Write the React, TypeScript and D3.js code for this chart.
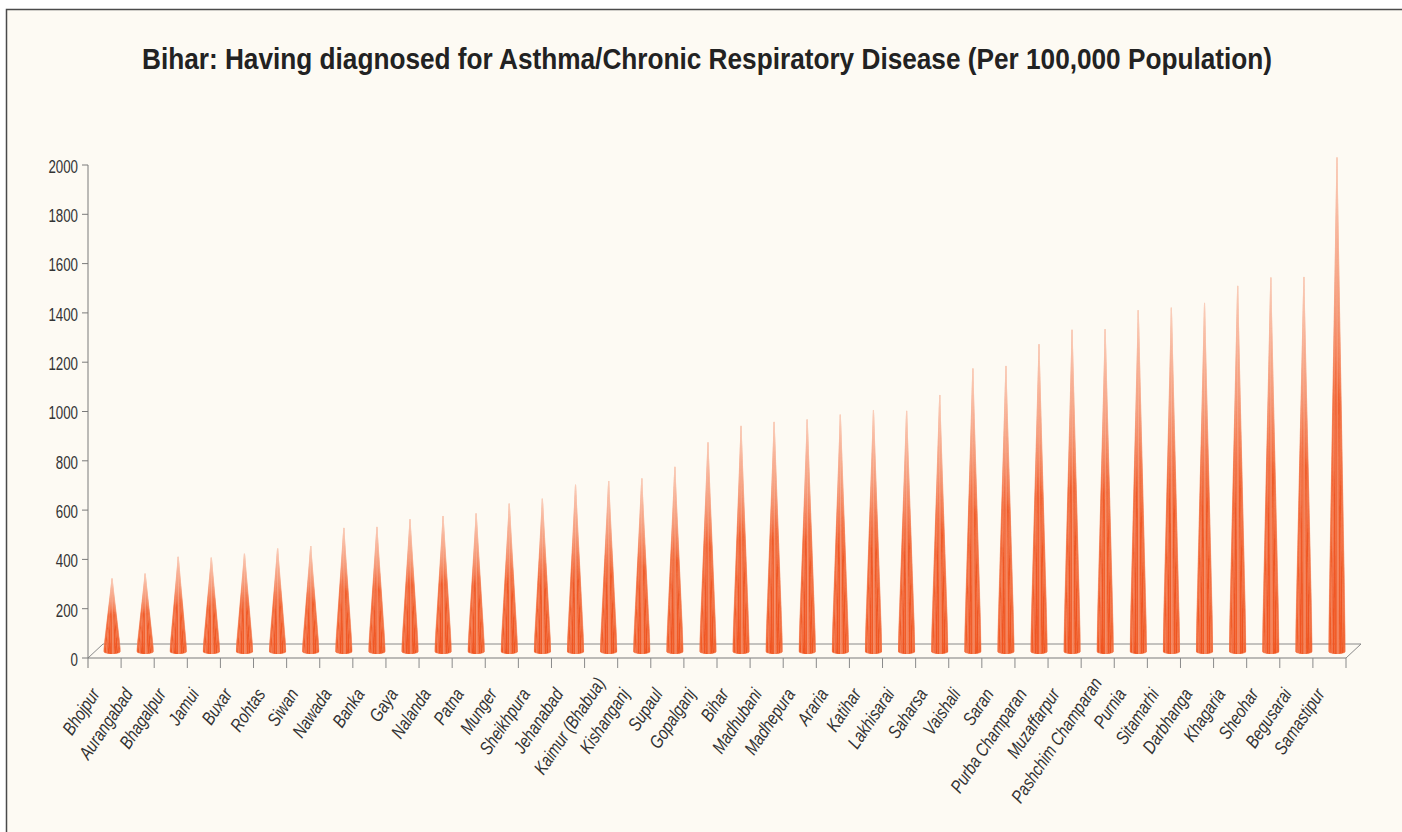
import React from "react";
import * as d3 from "d3";

const categories = [
  "Bhojpur", "Aurangabad", "Bhagalpur", "Jamui", "Buxar", "Rohtas", "Siwan", "Nawada",
  "Banka", "Gaya", "Nalanda", "Patna", "Munger", "Sheikhpura", "Jehanabad", "Kaimur (Bhabua)",
  "Kishanganj", "Supaul", "Gopalganj", "Bihar", "Madhubani", "Madhepura", "Araria", "Katihar",
  "Lakhisarai", "Saharsa", "Vaishali", "Saran", "Purba Champaran", "Muzaffarpur",
  "Pashchim Champaran", "Purnia", "Sitamarhi", "Darbhanga", "Khagaria", "Sheohar", "Begusarai",
  "Samastipur",
];

const values = [
  295, 315, 383, 380, 396, 417, 426, 500,
  504, 535, 548, 559, 599, 619, 676, 690,
  701, 748, 847, 914, 930, 940, 960, 978,
  975, 1039, 1147, 1157, 1245, 1304,
  1306, 1383, 1394, 1413, 1482, 1516, 1518,
  2003,
];

const yTicks = [0, 200, 400, 600, 800, 1000, 1200, 1400, 1600, 1800, 2000];

const title = "Bihar: Having diagnosed for Asthma/Chronic Respiratory Disease (Per 100,000 Population)";

const W = 1402;
const H = 832;
const left = 88;
const right = 1346;
const top = 165;
const bottom = 658;
const depthX = 15;
const depthY = 14;

const facetColors = [
  "#F47E55", "#F26634", "#F15A24", "#F37247", "#F05522", "#F15C28",
  "#F4865E", "#F15A24", "#EF5421", "#F26A38", "#F05724", "#F37A4F",
];

// labels that the original renderer placed a little higher
const raisedLabels = new Set(["Kaimur (Bhabua)", "Pashchim Champaran"]);

export default function App() {
  const y = d3.scaleLinear().domain([0, 2000]).range([bottom, top]);
  const x = d3.scaleBand<string>().domain(categories).range([left, right]).padding(0);
  const bw = x.bandwidth();
  const rx = bw * 0.26;
  const ry = 3;
  const N = facetColors.length;
  const font = "'Liberation Sans', Arial, sans-serif";

  return (
    <svg
      width={W}
      height={H}
      style={{ position: "absolute", left: 0, top: 0, background: "#ffffff" }}
      xmlns="http://www.w3.org/2000/svg"
    >
      <defs>
        <linearGradient id="fade" x1="0" y1="0" x2="0" y2="1">
          <stop offset="0" stopColor="#fff" stopOpacity={0.3} />
          <stop offset="0.3" stopColor="#fff" stopOpacity={0.65} />
          <stop offset="0.5" stopColor="#fff" stopOpacity={0.97} />
          <stop offset="1" stopColor="#fff" stopOpacity={1} />
        </linearGradient>
        <mask id="coneMask" maskContentUnits="objectBoundingBox">
          <rect x="0" y="0" width="1" height="1" fill="url(#fade)" />
        </mask>
      </defs>
      <rect x={6.5} y={9.5} width={1500} height={1000} fill="#FDFAF3" stroke="#4a4a4a" strokeWidth={1.5} />

      <text
        x={142}
        y={68.5}
        fontFamily={font}
        fontWeight="bold"
        fontSize={29}
        fill="#222"
        textLength={1130}
        lengthAdjust="spacingAndGlyphs"
      >
        {title}
      </text>

      {/* floor */}
      <path
        d={`M${left},${bottom} L${left + depthX},${bottom - depthY} L${right + depthX},${bottom - depthY} L${right},${bottom}`}
        fill="none"
        stroke="#8a8a8a"
        strokeWidth={1}
      />

      {/* y axis */}
      <line x1={left} x2={left} y1={y(2000)} y2={bottom + 10} stroke="#7a7a7a" strokeWidth={1} />
      {yTicks.map((t) => (
        <g key={t}>
          <line x1={left - 6} x2={left} y1={y(t)} y2={y(t)} stroke="#7a7a7a" strokeWidth={1} />
          <text
            transform={`translate(${left - 10},${y(t) + 7.8}) scale(0.72,1)`}
            textAnchor="end"
            fontFamily={font}
            fontSize={18.5}
            fill="#333"
          >
            {t}
          </text>
        </g>
      ))}

      {/* x axis */}
      <line x1={left} x2={right} y1={bottom} y2={bottom} stroke="#7a7a7a" strokeWidth={1} />
      {categories.map((c) => (
        <line
          key={"t" + c}
          x1={(x(c) as number) + bw}
          x2={(x(c) as number) + bw}
          y1={bottom}
          y2={bottom + 10}
          stroke="#8a8a8a"
          strokeWidth={1}
        />
      ))}

      {/* cones */}
      {categories.map((c, i) => {
        const cx = (x(c) as number) + bw / 2 + depthX / 2;
        const by = bottom - depthY / 2;
        const ay = y(values[i]) - depthY / 2;
        const facets = d3.range(N).map((k) => {
          const t0 = Math.PI - (k / N) * Math.PI;
          const t1 = Math.PI - ((k + 1) / N) * Math.PI;
          const p0 = [cx + rx * Math.cos(t0), by + ry * Math.sin(t0)];
          const p1 = [cx + rx * Math.cos(t1), by + ry * Math.sin(t1)];
          return (
            <path
              key={k}
              d={`M${cx},${ay} L${p0[0]},${p0[1]} L${p1[0]},${p1[1]} Z`}
              fill={facetColors[k]}
              stroke={facetColors[k]}
              strokeWidth={0.3}
            />
          );
        });
        return (
          <g key={"c" + c} mask="url(#coneMask)">
            {facets}
          </g>
        );
      })}

      {/* category labels */}
      {categories.map((c) => {
        const raised = raisedLabels.has(c);
        const lx = (x(c) as number) + bw / 2 - 4 + (raised ? 9 : 0);
        const ly = bottom + 36 + (raised ? -11 : 0);
        return (
          <text
            key={"l" + c}
            transform={`translate(${lx},${ly}) rotate(-56) scale(0.8,1)`}
            textAnchor="end"
            fontFamily={font}
            fontStyle="italic"
            fontSize={18.5}
            fill="#333"
          >
            {c}
          </text>
        );
      })}
    </svg>
  );
}
